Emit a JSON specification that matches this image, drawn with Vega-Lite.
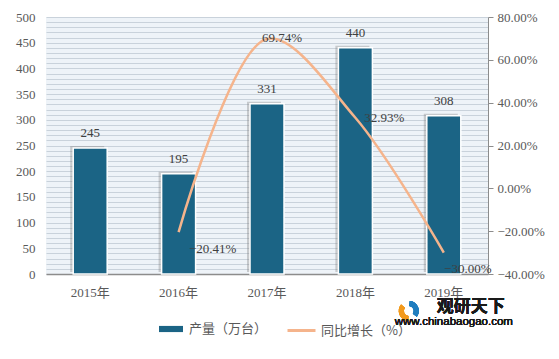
{
  "$schema": "https://vega.github.io/schema/vega-lite/v6.json",
  "width": 442,
  "height": 257,
  "autosize": "none",
  "padding": {"left": 46, "top": 17, "right": 71, "bottom": 85},
  "background": "white",
  "config": {
    "view": {"fill": "#eef3f8", "stroke": null},
    "axis": {"labelFont": "'Liberation Serif', 'Noto Sans CJK SC'", "labelColor": "#595959", "labelFontSize": 13, "title": null},
    "legend": {
      "labelFont": "Noto Sans CJK SC", "labelColor": "#595959", "labelFontSize": 13,
      "layout": {"bottom": {"anchor": "middle", "direction": "horizontal", "margin": 18}}
    }
  },
  "data": {
    "values": [
      {"year": "2015年", "prod": 245, "growth": null},
      {"year": "2016年", "prod": 195, "growth": -0.2041},
      {"year": "2017年", "prod": 331, "growth": 0.6974},
      {"year": "2018年", "prod": 440, "growth": 0.3293},
      {"year": "2019年", "prod": 308, "growth": -0.30}
    ]
  },
  "encoding": {
    "x": {
      "field": "year", "type": "ordinal", "sort": null,
      "scale": {"paddingInner": 0, "paddingOuter": 0},
      "axis": {"labelAngle": 0, "domainColor": "#8c8c8c", "domainWidth": 1.5, "ticks": false, "labelPadding": 12, "title": null}
    }
  },
  "layer": [
    {
      "encoding": {
        "y": {
          "field": "prod", "type": "quantitative",
          "scale": {"domain": [0, 500], "nice": false, "zero": true},
          "axis": {
            "orient": "left", "title": null, "domain": false, "ticks": false, "labelPadding": 11,
            "grid": true, "gridColor": "#c9d2db", "gridWidth": 1,
            "values": [0,10,20,30,40,50,60,70,80,90,100,110,120,130,140,150,160,170,180,190,200,210,220,230,240,250,260,270,280,290,300,310,320,330,340,350,360,370,380,390,400,410,420,430,440,450,460,470,480,490,500],
            "labelExpr": "datum.value % 50 === 0 ? datum.label : ''"
          }
        }
      },
      "layer": [
        {
          "mark": {"type": "bar", "width": 34, "color": "#7a7a7a", "opacity": 0.35, "xOffset": -3, "yOffset": -2}
        },
        {
          "mark": {"type": "bar", "width": 34, "stroke": "white", "strokeWidth": 1.5},
          "encoding": {
            "color": {
              "datum": "产量（万台）", "type": "nominal",
              "scale": {"range": ["#1b6485"]},
              "legend": {"orient": "bottom", "direction": "horizontal", "title": null, "symbolType": "M-0.857,-0.22H0.857V0.22H-0.857Z", "symbolSize": 784, "symbolStrokeWidth": 0, "symbolOffset": 34, "labelOffset": 4, "offset": 16}
            }
          }
        },
        {
          "mark": {"type": "text", "baseline": "middle", "dy": -15, "font": "Liberation Serif", "fontSize": 13, "color": "#404040"},
          "encoding": {"text": {"field": "prod", "type": "quantitative"}}
        },
        {
          "mark": {"type": "arc", "radius": 10, "radius2": 5, "theta": 0.1, "theta2": 2.2, "color": "#1f7dbf", "xOffset": -35, "yOffset": 4},
          "encoding": {"x": {"datum": "2019年"}, "y": {"datum": -64}}
        },
        {
          "mark": {"type": "arc", "radius": 10, "radius2": 5, "theta": 3.2, "theta2": 5.4, "color": "#f29a1d", "xOffset": -35, "yOffset": 4},
          "encoding": {"x": {"datum": "2019年"}, "y": {"datum": -64}}
        },
        {
          "mark": {"type": "text", "font": "Noto Sans CJK SC", "fontWeight": "bold", "fontSize": 17, "color": "#1a1a1a", "dx": 27, "baseline": "middle"},
          "encoding": {"x": {"datum": "2019年"}, "y": {"datum": -64}, "text": {"value": "观研天下"}}
        },
        {
          "mark": {"type": "text", "font": "Liberation Sans", "fontSize": 11.5, "color": "#1a1a1a", "dx": 10, "baseline": "middle"},
          "encoding": {"x": {"datum": "2019年"}, "y": {"datum": -93}, "text": {"value": "www.chinabaogao.com"}}
        }
      ]
    },
    {
      "transform": [{"filter": "datum.growth !== null"}],
      "encoding": {
        "y": {
          "field": "growth", "type": "quantitative",
          "scale": {"domain": [-0.4, 0.8], "nice": false, "zero": false},
          "axis": {
            "orient": "right", "title": null, "grid": false, "domain": true, "domainColor": "#8c8c8c",
            "ticks": true, "tickColor": "#8c8c8c", "tickSize": 5, "labelPadding": 4,
            "values": [-0.4, -0.2, 0, 0.2, 0.4, 0.6, 0.8], "format": ".2%"
          }
        }
      },
      "layer": [
        {
          "mark": {"type": "line", "interpolate": "catmull-rom", "strokeWidth": 2.5},
          "encoding": {
            "stroke": {
              "datum": "同比增长（%）", "type": "nominal",
              "scale": {"range": ["#f5b48c"]},
              "legend": {"orient": "bottom", "direction": "horizontal", "title": null, "symbolType": "M-1,0H1", "symbolSize": 784, "symbolStrokeWidth": 3, "labelOffset": 4, "offset": 16}
            }
          }
        },
        {
          "transform": [{"filter": "datum.year === '2016年'"}],
          "mark": {"type": "text", "font": "Liberation Serif", "fontSize": 13, "color": "#404040", "dx": 34, "dy": 17, "baseline": "middle"},
          "encoding": {"text": {"field": "growth", "type": "quantitative", "format": ".2%"}}
        },
        {
          "transform": [{"filter": "datum.year === '2017年'"}],
          "mark": {"type": "text", "font": "Liberation Serif", "fontSize": 13, "color": "#404040", "dx": 15, "dy": -1, "baseline": "middle"},
          "encoding": {"text": {"field": "growth", "type": "quantitative", "format": ".2%"}}
        },
        {
          "transform": [{"filter": "datum.year === '2018年'"}],
          "mark": {"type": "text", "font": "Liberation Serif", "fontSize": 13, "color": "#404040", "dx": 29, "dy": 0, "baseline": "middle"},
          "encoding": {"text": {"field": "growth", "type": "quantitative", "format": ".2%"}}
        },
        {
          "transform": [{"filter": "datum.year === '2019年'"}],
          "mark": {"type": "text", "font": "Liberation Serif", "fontSize": 13, "color": "#404040", "dx": 24, "dy": 16, "baseline": "middle"},
          "encoding": {"text": {"field": "growth", "type": "quantitative", "format": ".2%"}}
        }
      ]
    }
  ],
  "resolve": {"scale": {"y": "independent", "color": "independent", "stroke": "independent"}}
}
